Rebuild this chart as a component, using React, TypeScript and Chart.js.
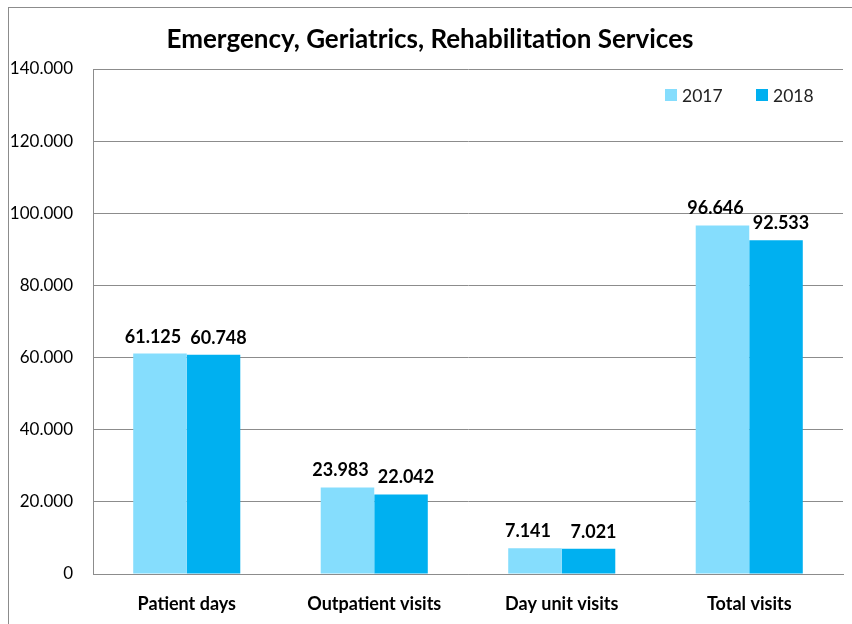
import React, { useEffect, useRef } from "react";
import { Chart, registerables } from "chart.js";

Chart.register(...registerables);

const TITLE = "Emergency, Geriatrics, Rehabilitation Services";
const categories = ["Patient days", "Outpatient visits", "Day unit visits", "Total visits"];
const seriesLabels = ["2017", "2018"];
const values2017 = [61125, 23983, 7141, 96646];
const values2018 = [60748, 22042, 7021, 92533];
const yMax = 140000;
const yStep = 20000;

const COLORS = ["#85DDFD", "#00B0F0"];
const FONT = "Lato, 'Open Sans', sans-serif";

const fmt = (v: number) => (v === 0 ? "0" : Math.round(v).toString().replace(/\B(?=(\d{3})+(?!\d))/g, "."));

const overlayPlugin = {
  id: "overlay",
  afterDatasetsDraw(chart: any) {
    const ctx = chart.ctx;
    ctx.save();
    // data labels
    ctx.font = `bold 18px ${FONT}`;
    ctx.fillStyle = "#000";
    ctx.textAlign = "center";
    ctx.textBaseline = "alphabetic";
    const dxs = [-7, 5];
    chart.data.datasets.forEach((ds: any, di: number) => {
      const meta = chart.getDatasetMeta(di);
      meta.data.forEach((el: any, i: number) => {
        ctx.fillText(fmt(ds.data[i]), el.x + dxs[di], el.y - 11);
      });
    });
    // title
    ctx.font = `bold 26px ${FONT}`;
    ctx.fillStyle = "#000";
    ctx.textAlign = "center";
    ctx.textBaseline = "middle";
    ctx.fillText(TITLE, 421, 32);
    // legend
    ctx.font = `17.5px ${FONT}`;
    ctx.textAlign = "left";
    const xs = [656, 747];
    chart.data.datasets.forEach((ds: any, di: number) => {
      ctx.fillStyle = ds.backgroundColor;
      ctx.fillRect(xs[di], 81, 12, 12);
      ctx.fillStyle = "#222";
      ctx.fillText(ds.label, xs[di] + 17, 88);
    });
    ctx.restore();
  },
};

export default function App() {
  const ref = useRef<HTMLCanvasElement | null>(null);
  useEffect(() => {
    if (!ref.current) return;
    const chart = new Chart(ref.current, {
      type: "bar",
      data: {
        labels: categories,
        datasets: [
          { label: seriesLabels[0], data: values2017, backgroundColor: COLORS[0], categoryPercentage: 0.571, barPercentage: 1 },
          { label: seriesLabels[1], data: values2018, backgroundColor: COLORS[1], categoryPercentage: 0.571, barPercentage: 1 },
        ],
      },
      options: {
        animation: false,
        responsive: false,
        maintainAspectRatio: false,
        layout: { padding: { top: 61, right: 1, bottom: 0, left: 0 } },
        plugins: { legend: { display: false }, title: { display: false }, tooltip: { enabled: false } },
        scales: {
          x: {
            grid: { display: false, drawTicks: false },
            border: { display: true, color: "#8c8c8c", width: 1 },
            ticks: { font: { family: FONT, size: 18, weight: "bold" }, color: "#000", padding: 19, maxRotation: 0 },
            afterFit: (s: any) => { s.height = 42; },
          },
          y: {
            min: 0,
            max: yMax,
            ticks: { stepSize: yStep, font: { family: FONT, size: 17 }, color: "#000", padding: 20, callback: (v: any) => fmt(Number(v)) },
            grid: { color: "#8c8c8c", drawTicks: false },
            border: { display: true, color: "#8c8c8c", width: 1 },
            afterFit: (s: any) => { s.width = 84; },
          },
        },
      },
      plugins: [overlayPlugin],
    });
    return () => chart.destroy();
  }, []);
  return (
    <div style={{ position: "fixed", left: 8, top: 7, width: 900, height: 700, border: "1px solid #8c8c8c", overflow: "hidden", background: "#fff" }}>
      <canvas ref={ref} width={835} height={608} style={{ display: "block" }} />
    </div>
  );
}
